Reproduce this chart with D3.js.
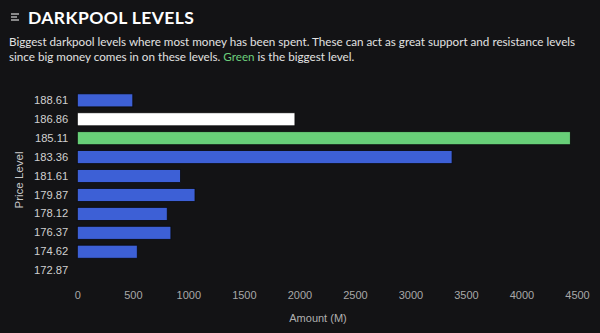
<!DOCTYPE html>
<html>
<head>
<meta charset="utf-8">
<script src="https://cdn.jsdelivr.net/npm/d3@7/dist/d3.min.js"></script>
<style>
  html, body { margin: 0; padding: 0; background: #131315; }
  svg { display: block; }
</style>
</head>
<body>
<svg id="chart" width="600" height="333"></svg>
<script>
// Price levels (top to bottom) and the amount traded at each, in millions
const priceLevels = ["188.61", "186.86", "185.11", "183.36", "181.61", "179.87", "178.12", "176.37", "174.62", "172.87"];
const amounts = [500, 1960, 4440, 3375, 930, 1060, 810, 843, 540, 0];
const barKinds = ["normal", "second", "top", "normal", "normal", "normal", "normal", "normal", "normal", "normal"];
const xTicks = [0, 500, 1000, 1500, 2000, 2500, 3000, 3500, 4000, 4500];

const title = "DARKPOOL LEVELS";
const subtitle1 = "Biggest darkpool levels where most money has been spent. These can act as great support and resistance levels";
const subtitle2a = "since big money comes in on these levels. ";
const subtitle2b = "Green";
const subtitle2c = " is the biggest level.";

const colors = { normal: "#3d60d6", second: "#ffffff", top: "#68cf78" };
const headFont = "Lato, 'Open Sans', sans-serif";
const axisFont = "'Liberation Sans', Arial, Helvetica, sans-serif";

const svg = d3.select("#chart");
svg.append("rect").attr("width", 600).attr("height", 333).attr("fill", "#131315");

// Header icon
const icon = svg.append("g").attr("stroke", "#d8d8d8").attr("stroke-width", 1.2);
[[11, 19, 14], [11, 17, 17], [11, 19, 20]].forEach(([x1, x2, y]) =>
  icon.append("line").attr("x1", x1).attr("x2", x2).attr("y1", y).attr("y2", y));

svg.append("text").attr("x", 28).attr("y", 24)
  .attr("fill", "#ffffff").attr("font-family", headFont).attr("font-weight", 700)
  .attr("font-size", 17.5).attr("letter-spacing", 0.4).text(title);

// Description, sized so the first line spans the header width
const sub1 = svg.append("text").attr("x", 9).attr("y", 46)
  .attr("fill", "#e2e2e2").attr("font-family", headFont).attr("font-size", 12.6)
  .text(subtitle1);
const fitSize = 12.6 * 566 / sub1.node().getComputedTextLength();
sub1.attr("font-size", fitSize);

const sub2 = svg.append("text").attr("x", 9).attr("y", 61)
  .attr("fill", "#e2e2e2").attr("font-family", headFont).attr("font-size", fitSize);
sub2.append("tspan").text(subtitle2a);
sub2.append("tspan").attr("fill", "#6ccf7c").text(subtitle2b);
sub2.append("tspan").text(subtitle2c);

// Scales
const x = d3.scaleLinear().domain([0, 4500]).range([77.3, 577]);
const y = d3.scaleBand().domain(priceLevels).range([91, 280]).paddingInner(0.31).paddingOuter(0.15);

// Bars
svg.append("g").selectAll("rect")
  .data(priceLevels.map((p, i) => ({ p, v: amounts[i], k: barKinds[i] })))
  .join("rect")
  .attr("x", x(0))
  .attr("y", d => y(d.p))
  .attr("width", d => x(d.v) - x(0))
  .attr("height", y.bandwidth())
  .attr("fill", d => colors[d.k])
  .attr("stroke", "#0a0a0c")
  .attr("stroke-width", d => d.v > 0 ? 0.8 : 0);

// Y axis
const yAxis = svg.append("g").attr("transform", `translate(${x(0)},0)`)
  .call(d3.axisLeft(y).tickSize(0).tickPadding(9));
yAxis.select(".domain").remove();
yAxis.selectAll("text").attr("fill", "#d0d0d0").attr("font-family", axisFont).attr("font-size", 11.2);

// X axis
const xAxis = svg.append("g").attr("transform", "translate(0,288)")
  .call(d3.axisBottom(x).tickValues(xTicks).tickFormat(d3.format("d")).tickSize(0).tickPadding(3));
xAxis.select(".domain").remove();
xAxis.selectAll("text").attr("fill", "#a8a8a8").attr("font-family", axisFont).attr("font-size", 11);

// Axis titles
svg.append("text").attr("x", 318).attr("y", 322).attr("text-anchor", "middle")
  .attr("fill", "#b0b0b0").attr("font-family", axisFont).attr("font-size", 11).text("Amount (M)");
svg.append("text").attr("transform", "translate(23,180) rotate(-90)").attr("text-anchor", "middle")
  .attr("fill", "#c8c8c8").attr("font-family", axisFont).attr("font-size", 11.5).text("Price Level");
</script>
</body>
</html>
